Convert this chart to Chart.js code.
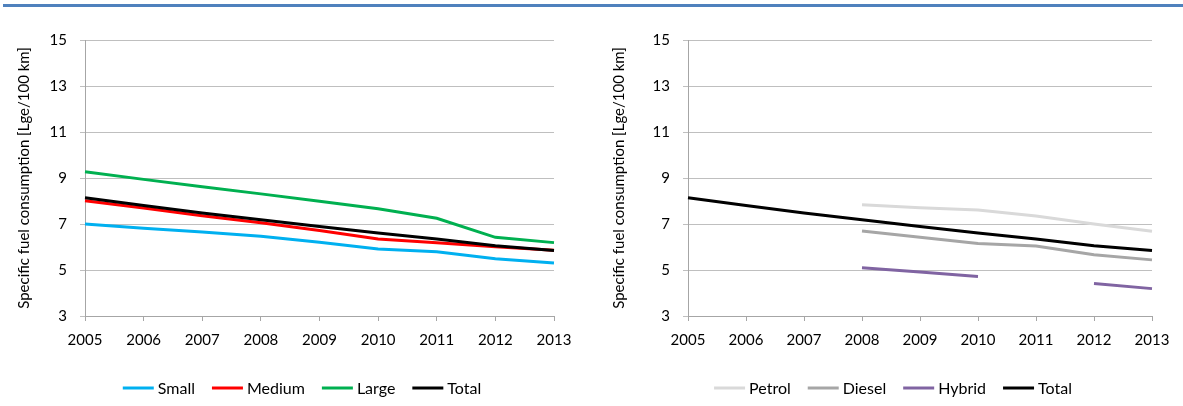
<!DOCTYPE html>
<html>
<head>
<meta charset="utf-8">
<script src="https://cdn.jsdelivr.net/npm/chart.js@4/dist/chart.umd.min.js"></script>
<style>
  html, body { margin: 0; padding: 0; background: #fff; }
  #wrap  { position: relative; width: 1183px; height: 406px; overflow: hidden; }
  .rule  { position: absolute; top: 4px; left: 3px; right: 0; height: 3px; background: #4f81bd; }
  .panel { position: absolute; top: 0; height: 406px; }
  #left  { left: 0;     width: 591px; }
  #right { left: 591px; width: 592px; }
</style>
</head>
<body>
<div id="wrap">
  <div class="rule"></div>
  <div class="panel" id="left"><canvas id="sizeChart" width="591" height="406"></canvas></div>
  <div class="panel" id="right"><canvas id="fuelChart" width="592" height="406"></canvas></div>
</div>

<script>
/* ─── Data ──────────────────────────────────────── */
const YEARS   = ['2005', '2006', '2007', '2008', '2009', '2010', '2011', '2012', '2013'];
const Y_TICKS = [3, 5, 7, 9, 11, 13, 15];

// by car size
const SMALL  = [7.00, 6.82, 6.65, 6.47, 6.21, 5.91, 5.79, 5.49, 5.30];
const MEDIUM = [8.01, 7.70, 7.36, 7.05, 6.72, 6.35, 6.18, 6.01, 5.86];
const LARGE  = [9.27, 8.94, 8.62, 8.31, 7.99, 7.66, 7.25, 6.42, 6.19];
const TOTAL  = [8.14, 7.80, 7.48, 7.18, 6.89, 6.61, 6.35, 6.05, 5.85];

// by fuel type
const PETROL = [null, null, null, 7.84, 7.71, 7.61, 7.35, 7.00, 6.68];
const DIESEL = [null, null, null, 6.70, 6.42, 6.15, 6.04, 5.66, 5.44];
const HYBRID = [null, null, null, 5.10, 4.91, 4.72, null, 4.41, 4.19];

const Y_TITLE = 'Specific fuel consumption [Lge/100 km]';

/* ─── Style ─────────────────────────────────────── */
const FONT     = { family: 'Lato, "Open Sans", sans-serif', size: 15 };
const LEG_SIZE = 16;
const GRID_CLR = '#bfbfbf';
const AXIS_CLR = '#a6a6a6';

/* ─── Legend: short line, label right after it ─── */
const lineLegend = {
  id: 'lineLegend',
  afterDraw(chart, args, opts) {
    const ctx = chart.ctx;
    ctx.save();
    ctx.font = `${LEG_SIZE}px ${FONT.family}`;
    const items = chart.data.datasets.map(ds => ({
      text:  ds.label,
      color: ds.borderColor,
      w:     opts.lineLen + opts.gap + ctx.measureText(ds.label).width,
    }));
    const total = items.reduce((s, it) => s + it.w, 0) + opts.spacing * (items.length - 1);
    let x = opts.centerX - total / 2;
    items.forEach(it => {
      ctx.strokeStyle = it.color;
      ctx.lineWidth = 3;
      ctx.beginPath();
      ctx.moveTo(x, opts.y);
      ctx.lineTo(x + opts.lineLen, opts.y);
      ctx.stroke();
      ctx.fillStyle = '#000';
      ctx.textBaseline = 'middle';
      ctx.textAlign = 'left';
      ctx.fillText(it.text, x + opts.lineLen + opts.gap, opts.y + 1);
      x += it.w + opts.spacing;
    });
    ctx.restore();
  },
};

function series(label, data, color, order) {
  return {
    label,
    data,
    borderColor: color,
    backgroundColor: color,
    borderWidth: 3,
    pointRadius: 0,
    pointHoverRadius: 0,
    tension: 0,
    spanGaps: false,
    order,
  };
}

function makeOptions(yWidth, titlePad, rightPad) {
  return {
    responsive: false,
    animation: false,
    layout: { padding: { top: 40, left: 0, right: rightPad, bottom: 50 } },
    plugins: {
      legend:  { display: false },
      tooltip: { enabled: false },
      lineLegend: { centerX: 302, y: 388, lineLen: 31, gap: 4, spacing: 17 },
    },
    scales: {
      x: {
        offset: false,
        grid:   { drawOnChartArea: false, drawTicks: true, tickLength: 5, color: AXIS_CLR },
        border: { color: AXIS_CLR },
        ticks:  { color: '#000', font: FONT, padding: 10, maxRotation: 0, autoSkip: false },
        afterFit: s => { s.height = 40; },
      },
      y: {
        min: Y_TICKS[0],
        max: Y_TICKS[Y_TICKS.length - 1],
        ticks:  { stepSize: Y_TICKS[1] - Y_TICKS[0], color: '#000', font: FONT, padding: 13 },
        grid:   { color: GRID_CLR, tickLength: 5 },
        border: { color: AXIS_CLR },
        title:  {
          display: true,
          text: Y_TITLE,
          color: '#000',
          font: FONT,
          padding: { top: titlePad, bottom: 0 },
        },
        afterFit: s => { s.width = yWidth; },
      },
    },
  };
}

/* ─── Charts ────────────────────────────────────── */
new Chart(document.getElementById('sizeChart'), {
  type: 'line',
  data: {
    labels: YEARS,
    datasets: [
      series('Small',  SMALL,  '#00b0f0', 3),
      series('Medium', MEDIUM, '#ff0000', 2),
      series('Large',  LARGE,  '#00b050', 1),
      series('Total',  TOTAL,  '#000000', 0),
    ],
  },
  options: makeOptions(85, 15, 37),
  plugins: [lineLegend],
});

new Chart(document.getElementById('fuelChart'), {
  type: 'line',
  data: {
    labels: YEARS,
    datasets: [
      series('Petrol', PETROL, '#d9d9d9', 3),
      series('Diesel', DIESEL, '#a6a6a6', 2),
      series('Hybrid', HYBRID, '#8064a2', 1),
      series('Total',  TOTAL,  '#000000', 0),
    ],
  },
  options: makeOptions(97, 19, 31),
  plugins: [lineLegend],
});
</script>
</body>
</html>
